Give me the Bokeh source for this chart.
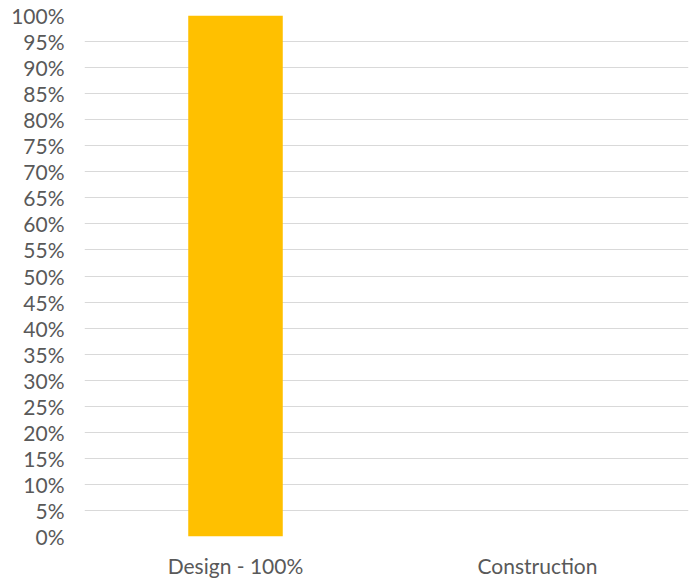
from bokeh.plotting import figure
from bokeh.models import FactorRange, Range1d, SingleIntervalTicker, NumeralTickFormatter, ColumnDataSource
from bokeh.embed import file_html
from bokeh.resources import INLINE

categories = ["Design - 100%", "Construction"]
values = [1.0, 0.0]

src = ColumnDataSource(dict(cat=categories, val=values))

p = figure(width=699, height=581, x_range=FactorRange(*categories, range_padding=0),
           y_range=Range1d(0, 1), output_backend="svg", toolbar_location=None,
           min_border_left=84, min_border_right=11, min_border_top=15, min_border_bottom=45)
p.vbar(x="cat", top="val", width=0.313, source=src, fill_color="#FFC000", line_color=None)

p.outline_line_color = None
p.xgrid.grid_line_color = None
p.ygrid.grid_line_color = "#D9D9D9"
p.ygrid.grid_line_width = 1

p.yaxis.ticker = SingleIntervalTicker(interval=0.05, num_minor_ticks=0)
p.yaxis.formatter = NumeralTickFormatter(format="0%")
for ax in (p.xaxis, p.yaxis):
    ax.axis_line_color = None
    ax.major_tick_line_color = None
    ax.minor_tick_line_color = None
    ax.major_tick_out = 0
    ax.major_tick_in = 0
    ax.major_label_text_font = "Lato"
    ax.major_label_text_font_size = "21px"
    ax.major_label_text_color = "#595959"
p.yaxis.major_label_standoff = 20
p.xaxis.major_label_standoff = 16

open("out.html", "w").write(file_html(p, INLINE))
